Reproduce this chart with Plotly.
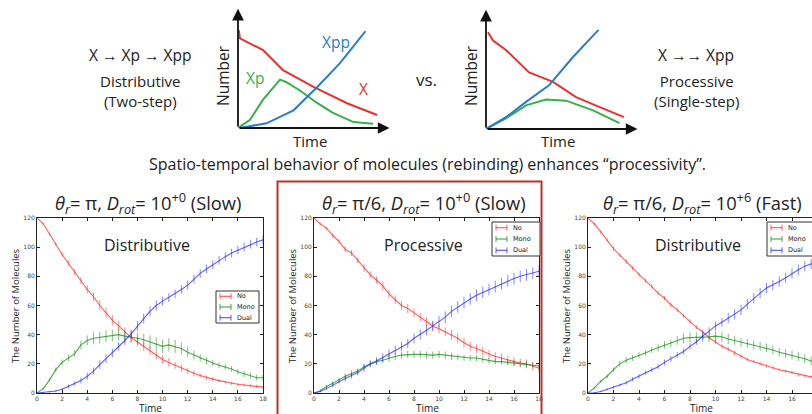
import plotly.graph_objects as go

W, H = 812, 414

# ---------------- data: bottom panels ----------------
time = [0, 0.5, 1, 1.5, 2, 2.5, 3, 3.5, 4, 4.5, 5, 5.5, 6, 6.5, 7, 7.5, 8, 8.5, 9, 9.5,
        10, 10.5, 11, 11.5, 12, 12.5, 13, 13.5, 14, 14.5, 15, 15.5, 16, 16.5, 17, 17.5, 18]

p1_no = [120, 116, 109, 102, 95, 89, 83, 77, 71, 66, 60, 55, 50, 46, 42, 38, 35, 32, 29, 26,
         23, 21, 19, 17, 15, 13.5, 12, 10.5, 9.5, 8.5, 7.5, 6.5, 6, 5.5, 5, 4.5, 4]
p1_mono = [0, 3, 9, 16, 21, 24, 27, 33, 36, 37.5, 38, 39, 39.5, 40, 39, 38.5, 37.5, 36.5, 35, 33.5,
           32, 33, 32, 30.5, 28, 26, 24, 22, 20.5, 19, 18, 16.5, 14.5, 13, 12, 10.5, 10.5]
p1_dual = [0, 0.3, 0.7, 1.4, 2.5, 4.5, 6.5, 8.5, 11.5, 15, 19.5, 23.5, 27.5, 32, 36, 40.5, 46, 51, 56, 60,
           63, 65.5, 68, 71, 74, 78, 82, 85, 88, 91, 93.5, 96, 98, 100, 102, 103.5, 105]

p2_no = [120, 116, 113, 108, 104, 98.5, 96, 91, 85.5, 81, 77.5, 73.5, 68, 64, 60, 58, 55, 52, 49, 46,
         44, 42, 40, 37.5, 34.5, 32, 30.5, 28.5, 26.5, 25, 24, 22.5, 21.5, 20.5, 20, 18.5, 17]
p2_mono = [0, 1.5, 4.5, 6.5, 9, 11.5, 13.5, 15, 18, 20, 21.5, 22.5, 24, 25, 26, 26.5, 26.5, 26.5, 26, 26,
           26.5, 26, 25, 24.5, 24, 24, 24, 23, 22, 21.5, 21.5, 21, 20.5, 20, 19.5, 19, 18.5]
p2_dual = [0, 1, 3, 5.5, 8, 10, 12, 14, 17, 20, 22, 24.5, 27, 29.5, 32, 34, 37.5, 40, 43, 46,
           49, 52, 56, 59, 62, 64.5, 67, 69, 71, 73, 75, 77, 78.5, 80, 81, 82, 83.5]

p3_no = [120, 116, 110.5, 105, 99, 94.5, 90, 85.5, 81, 77, 73, 68.5, 65, 60.5, 57, 53, 49, 45, 42, 38,
         35, 32, 30, 27.5, 25, 23, 21.5, 20, 18.5, 17, 16, 15, 14, 12.5, 11.5, 11, 10]
p3_mono = [0, 3.5, 8, 11.5, 16, 20, 22.5, 24, 26, 27.5, 29.5, 31, 33, 34, 36, 37.5, 38, 38, 38.5, 38.5,
           39, 38.5, 37, 36, 34.5, 34, 33, 32, 31, 29.5, 28, 27, 26, 25, 23.5, 22, 20.5]
p3_dual = [0, 0.2, 1, 2.5, 4, 5.5, 7, 9.5, 11.5, 14, 16, 18, 21, 23.5, 26, 28.5, 32, 35, 39, 42.5,
           46, 48.5, 51.5, 54, 57, 61, 65, 68.5, 72, 74, 76.5, 79, 82, 84.5, 87, 88.5, 90]

# error bar half-heights
e1_no = [0, 0.8, 1, 1.2, 1.5, 2, 2, 2.5, 3, 3, 3.5, 3.5, 3.5, 3.5, 3, 3, 3, 3, 3, 3,
         3, 3, 2.5, 2.5, 2, 2, 1.5, 1.5, 1.5, 1, 1, 1, 1, 1, 1, 1, 1]
e1_mono = [0, 0.8, 1, 1.5, 2, 2.5, 2.5, 3, 3.5, 4, 4, 4, 4, 4, 4, 4, 4, 4, 4.5, 4.5,
           4.5, 4.5, 4.5, 4, 3.5, 3, 2.5, 2.5, 2, 2, 2, 2, 2, 2, 2, 2, 2]
e1_dual = [0, 0.3, 0.5, 0.8, 1, 1.5, 1.5, 2, 2.5, 2.5, 3, 3, 3, 3, 3, 3, 3.5, 3.5, 3.5, 3.5,
           3, 3, 3, 3, 3, 3, 3, 3, 3, 3, 3, 3, 3, 3, 3, 3, 3]
e2_no = [0, 1, 1, 1.5, 1.5, 2, 2, 2, 2.5, 2.5, 2.5, 3, 3, 3, 3, 3, 3, 3, 3, 3,
         3, 3, 3.5, 3.5, 3.5, 3, 3, 3, 3, 3, 3, 3, 3, 3, 3, 3, 3]
e2_mono = [0, 1, 1, 1.5, 1.5, 2, 2, 2, 2, 2, 2, 2, 2.5, 2.5, 2.5, 2.5, 2.5, 2.5, 2.5, 2.5,
           2.5, 2.5, 2.5, 2, 2, 2, 2, 2, 2, 2, 2, 2, 2, 2, 2, 2, 2]
e2_dual = [0, 0.5, 1, 1.5, 1.5, 2, 2, 2, 2.5, 2.5, 2.5, 3, 3, 3, 3, 3, 3.5, 3.5, 3.5, 3.5,
           4, 4, 4, 4, 4, 4, 4, 4, 4, 4, 4, 4, 4, 4, 4, 4, 4]
e3_no = [0, 0.8, 1, 1, 1.2, 1.2, 1.5, 1.5, 1.5, 1.5, 1.5, 1.5, 1.5, 1.5, 1.5, 1.5, 1.5, 1.5, 1.5, 1.5,
         1.5, 1.5, 1.5, 1.5, 1.5, 1.2, 1.2, 1.2, 1.2, 1.2, 1, 1, 1, 1, 1, 1, 1]
e3_mono = [0, 0.8, 1, 1.2, 1.5, 2, 2, 2, 2, 2, 2, 2.5, 2.5, 2.5, 3, 3.5, 3.5, 3.5, 3.5, 3.5,
           3.5, 3.5, 3.5, 3, 3, 3, 3, 3, 3, 3, 3, 3, 3, 3, 3, 3, 3]
e3_dual = [0, 0.3, 0.5, 0.8, 1, 1, 1.2, 1.5, 1.5, 1.5, 1.5, 1.5, 2, 2, 2, 2, 2, 2, 2.5, 2.5,
           3, 3, 3.5, 3.5, 3.5, 3.5, 3.5, 3.5, 3.5, 3.5, 3.5, 3.5, 3.5, 3.5, 3.5, 3.5, 3.5]

series_names = ["No", "Mono", "Dual"]
x_ticks = [0, 2, 4, 6, 8, 10, 12, 14, 16, 18]
y_ticks = [0, 20, 40, 60, 80, 100, 120]

panel_titles = [
    "<i>θ<sub>r</sub></i>= π, <i>D<sub>rot</sub></i>= 10<sup>+0</sup> (Slow)",
    "<i>θ<sub>r</sub></i>= π/6, <i>D<sub>rot</sub></i>= 10<sup>+0</sup> (Slow)",
    "<i>θ<sub>r</sub></i>= π/6, <i>D<sub>rot</sub></i>= 10<sup>+6</sup> (Fast)",
]
panel_labels = ["Distributive", "Processive", "Distributive"]

# ---------------- data: schematic sketches ----------------
s1_x_t = [0.05, 0.13, 1.67, 3.0, 5.0, 7.27, 9.27]
s1_x_v = [8.3, 7.6, 6.6, 4.9, 3.5, 2.1, 1.1]
s1_xp_t = [0, 0.8, 1.67, 2.8, 3.2, 4.1, 5.3, 6.3, 7.7, 9.0]
s1_xp_v = [0, 0.7, 2.4, 4.1, 3.9, 3.2, 2.1, 1.3, 0.5, 0.35]
s1_xpp_t = [0.1, 1.9, 3.7, 5.3, 6.8, 7.9, 8.5]
s1_xpp_v = [0, 0.4, 1.5, 3.5, 5.5, 7.2, 8.2]

s2_x_t = [0.13, 0.47, 1.33, 2.87, 4.47, 6.0, 7.5, 9.2]
s2_x_v = [8.2, 7.5, 6.7, 4.8, 4.0, 2.7, 1.9, 1.0]
s2_xpp_t = [0, 1.33, 2.67, 4.2, 5.8, 7.5]
s2_xpp_v = [0, 1.0, 2.3, 3.7, 6.1, 8.4]
s2_xp_t = [0, 1.33, 2.67, 4.0, 5.33, 7.1, 8.9]
s2_xp_v = [0, 0.9, 2.0, 2.5, 2.4, 1.6, 0.5]

# ---------------- helpers ----------------
def fx(px):
    return px / W

def fy(py):
    return 1 - py / H

FONT = "Open Sans"
TXT = "#222222"
line_cols = ["rgba(255,40,40,0.75)", "rgba(20,140,20,0.75)", "rgba(40,40,255,0.75)"]
err_cols = ["rgba(255,40,40,0.55)", "rgba(20,140,20,0.55)", "rgba(40,40,255,0.55)"]
sk_red, sk_green, sk_blue = "#e8322d", "#35b04a", "#2c7cc6"

fig = go.Figure()

def note(x, y, text, size, color=TXT, family=FONT, xanchor="center", angle=0):
    return dict(x=fx(x), y=fy(y), xref="paper", yref="paper", text=text,
                showarrow=False, xanchor=xanchor, yanchor="middle", textangle=angle,
                font=dict(size=size, family=family, color=color))

panels = [
    dict(vals=[p1_no, p1_mono, p1_dual], errs=[e1_no, e1_mono, e1_dual],
         x0=37, x1=263, xr=[0, 18], tcx=148, lab=(147, 245),
         leg=(216, 291, 259, 323)),
    dict(vals=[p2_no, p2_mono, p2_dual], errs=[e2_no, e2_mono, e2_dual],
         x0=314, x1=539, xr=[0, 18], tcx=424, lab=(423, 245),
         leg=(492, 222, 540, 256)),
    dict(vals=[p3_no, p3_mono, p3_dual], errs=[e3_no, e3_mono, e3_dual],
         x0=588, x1=812, xr=[0, 18 * (812 - 588) / 229.5], tcx=702, lab=(698, 245),
         leg=(767, 222, 830, 256)),
]

annotations = []
shapes = []
PY0, PY1 = 218, 393

for i, p in enumerate(panels):
    n = i + 1
    xa = "x" if n == 1 else f"x{n}"
    ya = "y" if n == 1 else f"y{n}"
    for s in range(3):
        fig.add_trace(go.Scatter(
            x=time, y=p["vals"][s], mode="lines", name=series_names[s],
            line=dict(color=line_cols[s], width=1.1),
            error_y=dict(type="data", array=p["errs"][s], visible=True,
                         thickness=1, width=0, color=err_cols[s]),
            xaxis=xa, yaxis=ya, showlegend=False, hoverinfo="skip"))
    axx = dict(domain=[fx(p["x0"]), fx(p["x1"])], range=p["xr"], anchor=ya,
               tickvals=x_ticks, ticks="inside", ticklen=3, tickcolor="#222",
               showline=True, linecolor="#222", linewidth=1, mirror="ticks",
               showgrid=False, zeroline=False,
               tickfont=dict(size=6, color="#444", family="DejaVu Sans"))
    axy = dict(domain=[fy(PY1), fy(PY0)], range=[0, 120], anchor=xa,
               tickvals=y_ticks, ticks="inside", ticklen=3, tickcolor="#222",
               showline=True, linecolor="#222", linewidth=1,
               mirror=("ticks" if n < 3 else False),
               showgrid=False, zeroline=False,
               tickfont=dict(size=6, color="#444", family="DejaVu Sans"))
    key = "" if n == 1 else str(n)
    fig.update_layout(**{f"xaxis{key}": axx, f"yaxis{key}": axy})

    annotations.append(note(p["tcx"], 203, panel_titles[i], 18.3))
    annotations.append(note(p["lab"][0], p["lab"][1], panel_labels[i], 16))
    annotations.append(note(p["x0"] - 22, 306, "The Number of Molecules", 9.5, angle=-90))
    annotations.append(note(p["x0"] + 113, 408, "Time", 10))

    # legend box (matplotlib style)
    lx0, ly0, lx1, ly1 = p["leg"]
    shapes.append(dict(type="rect", xref="paper", yref="paper",
                       x0=fx(lx0), x1=fx(lx1), y0=fy(ly1), y1=fy(ly0),
                       line=dict(color="#333", width=1), fillcolor="white", layer="above"))
    rowh = (ly1 - ly0) / 3
    for s in range(3):
        yy = ly0 + rowh * (s + 0.5)
        gx0, gx1 = lx0 + 4, lx0 + 15
        shapes.append(dict(type="line", xref="paper", yref="paper",
                           x0=fx(gx0), x1=fx(gx1), y0=fy(yy), y1=fy(yy),
                           line=dict(color=line_cols[s], width=1.2), layer="above"))
        for gx in (gx0, gx1):
            shapes.append(dict(type="line", xref="paper", yref="paper",
                               x0=fx(gx), x1=fx(gx), y0=fy(yy - 3), y1=fy(yy + 3),
                               line=dict(color=line_cols[s], width=1), layer="above"))
        annotations.append(note(gx1 + 4, yy, series_names[s], 6.5, color="#222",
                                family="DejaVu Sans", xanchor="left"))

# red frame around the middle panel
shapes.append(dict(type="rect", xref="paper", yref="paper",
                   x0=fx(277.5), x1=fx(541.5), y0=fy(430), y1=fy(181.5),
                   line=dict(color="#c0302a", width=2), fillcolor="rgba(0,0,0,0)", layer="above"))

# ---------------- schematic sketches ----------------
sketches = [
    dict(key="4", ox=238, oy=128, curves=[(s1_x_t, s1_x_v, sk_red), (s1_xp_t, s1_xp_v, sk_green),
                                          (s1_xpp_t, s1_xpp_v, sk_blue)]),
    dict(key="5", ox=486, oy=129, curves=[(s2_x_t, s2_x_v, sk_red), (s2_xp_t, s2_xp_v, sk_green),
                                          (s2_xpp_t, s2_xpp_v, sk_blue)]),
]
for sk in sketches:
    k = sk["key"]
    for (tx, ty, col) in sk["curves"]:
        fig.add_trace(go.Scatter(x=tx, y=ty, mode="lines", line=dict(color=col, width=2),
                                 xaxis=f"x{k}", yaxis=f"y{k}", showlegend=False, hoverinfo="skip"))
    fig.update_layout(**{
        f"xaxis{k}": dict(domain=[fx(sk["ox"]), fx(sk["ox"] + 150)], range=[0, 10],
                          anchor=f"y{k}", visible=False),
        f"yaxis{k}": dict(domain=[fy(sk["oy"]), fy(sk["oy"] - 118)], range=[0, 10],
                          anchor=f"x{k}", visible=False),
    })
    for (tx, ty) in [(10.1, 0), (0, 10.1)]:
        annotations.append(dict(x=tx, y=ty, ax=0, ay=0, xref=f"x{k}", yref=f"y{k}",
                                axref=f"x{k}", ayref=f"y{k}", text="", showarrow=True,
                                arrowhead=2, arrowsize=1.3, arrowwidth=1.8, arrowcolor="#111"))
    annotations.append(note(sk["ox"] - 15, 76, "Number", 15.5, angle=-90))
    annotations.append(note(sk["ox"] + 72, 141, "Time", 15))

annotations += [
    note(336, 42, "Xpp", 15.5, color=sk_blue),
    note(255, 78, "Xp", 15.5, color=sk_green),
    note(363, 89, "X", 15.5, color=sk_red),
]

top_texts = [
    (140, 55, "X → Xp → Xpp", 15.5),
    (140, 91, "Distributive<br>(Two-step)", 15),
    (426, 80, "vs.", 17),
    (696, 55, "X →→ Xpp", 15.5),
    (696, 91, "Processive<br>(Single-step)", 15),
    (427, 164, "Spatio-temporal behavior of molecules (rebinding) enhances “processivity”.", 16),
]
for (x, y, t, s) in top_texts:
    annotations.append(note(x, y, t, s))

fig.update_layout(width=W, height=H, autosize=False,
                  margin=dict(l=0, r=0, t=0, b=0, autoexpand=False),
                  paper_bgcolor="white", plot_bgcolor="white",
                  annotations=annotations, shapes=shapes, showlegend=False)

fig.write_html("out.html", config={"displayModeBar": False},
               post_script="document.body.style.margin='0';")
